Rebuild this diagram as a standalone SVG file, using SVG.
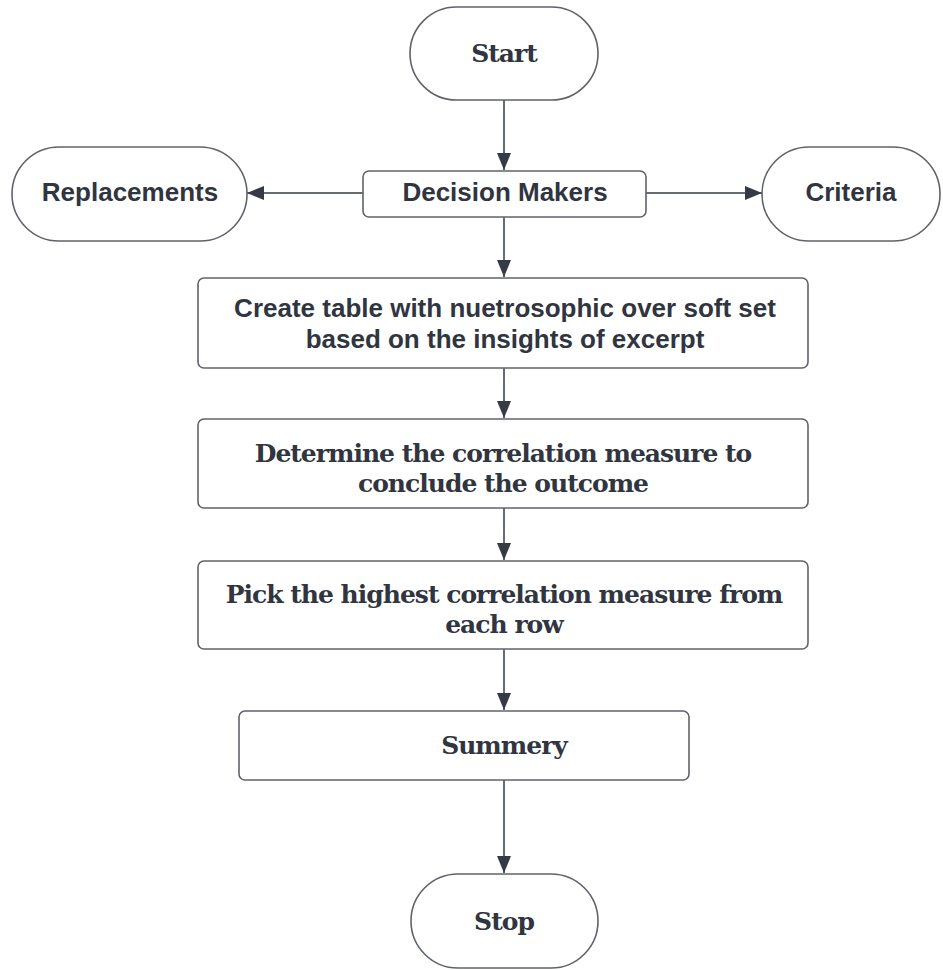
<svg xmlns="http://www.w3.org/2000/svg" width="943" height="970" viewBox="0 0 943 970">
<defs>
<marker id="arr" viewBox="0 0 17 14" refX="17" refY="7" markerWidth="17" markerHeight="14" markerUnits="userSpaceOnUse" orient="auto">
<path d="M0,0 L17,7 L0,14 Z" fill="#353a45"/>
</marker>
<style>
.shape{fill:#ffffff;stroke:#5f636b;stroke-width:1.6}
.serif{font-family:"DejaVu Serif","Liberation Serif",serif;font-weight:bold;fill:#30353f;text-anchor:middle;font-size:25px;letter-spacing:-1px}
.sans{font-family:"Liberation Sans",Arial,sans-serif;font-weight:bold;fill:#30353f;text-anchor:middle;font-size:26px}
.conn{stroke:#353a45;stroke-width:1.5;fill:none;marker-end:url(#arr)}
</style>
</defs>
<rect width="943" height="970" fill="#ffffff"/>
<g id="connectors">
<line class="conn" x1="504" y1="100" x2="504" y2="170"/>
<line class="conn" x1="363" y1="193" x2="247" y2="193"/>
<line class="conn" x1="646" y1="193" x2="762" y2="193"/>
<line class="conn" x1="504" y1="217" x2="504" y2="277"/>
<line class="conn" x1="504" y1="368" x2="504" y2="418"/>
<line class="conn" x1="504" y1="508" x2="504" y2="560"/>
<line class="conn" x1="504" y1="649" x2="504" y2="710"/>
<line class="conn" x1="504" y1="780" x2="504" y2="873"/>
</g>
<g id="start">
<rect class="shape" x="410" y="7" width="188" height="93" rx="46.5"/>
<text class="serif" x="504" y="62">Start</text>
</g>
<g id="decision-makers">
<rect class="shape" x="363" y="171" width="283" height="46" rx="6"/>
<text class="sans" x="505" y="201">Decision Makers</text>
</g>
<g id="replacements">
<rect class="shape" x="12" y="147" width="235" height="94" rx="47"/>
<text class="sans" x="130" y="201">Replacements</text>
</g>
<g id="criteria">
<rect class="shape" x="762" y="147" width="178" height="94" rx="47"/>
<text class="sans" x="851" y="201">Criteria</text>
</g>
<g id="create-table">
<rect class="shape" x="198" y="278" width="610" height="90" rx="6"/>
<text class="sans" x="505" y="317">Create table with nuetrosophic over soft set</text>
<text class="sans" x="505" y="348">based on the insights of excerpt</text>
</g>
<g id="determine">
<rect class="shape" x="198" y="419" width="610" height="89" rx="6"/>
<text class="serif" x="503" y="462">Determine the correlation measure to</text>
<text class="serif" x="503" y="492">conclude the outcome</text>
</g>
<g id="pick">
<rect class="shape" x="198" y="561" width="610" height="88" rx="6"/>
<text class="serif" x="504" y="603">Pick the highest correlation measure from</text>
<text class="serif" x="504" y="633">each row</text>
</g>
<g id="summery">
<rect class="shape" x="239" y="711" width="450" height="69" rx="6"/>
<text class="serif" x="504" y="754">Summery</text>
</g>
<g id="stop">
<rect class="shape" x="411" y="874" width="187" height="94" rx="47"/>
<text class="serif" x="504" y="930">Stop</text>
</g>
</svg>
